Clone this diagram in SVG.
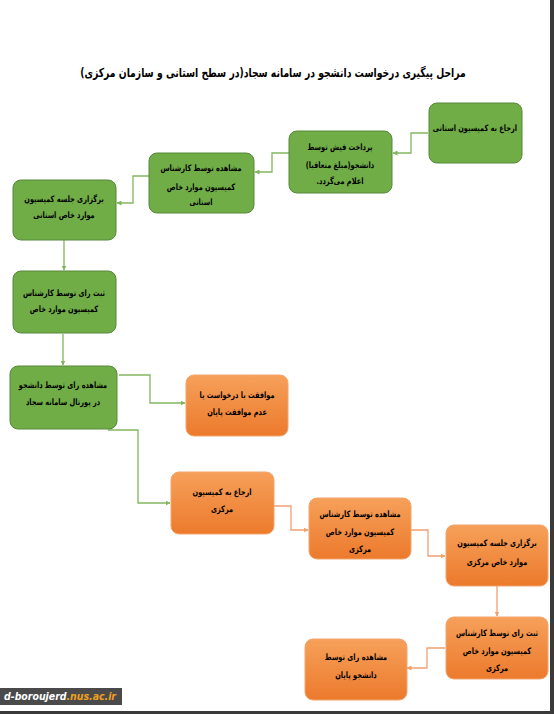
<svg xmlns="http://www.w3.org/2000/svg" width="554" height="714" viewBox="0 0 554 714">
<defs>
<linearGradient id="og" x1="0" y1="0" x2="0" y2="1">
<stop offset="0" stop-color="#f6a05a"/>
<stop offset="1" stop-color="#ec7a2c"/>
</linearGradient>
<marker id="ag" viewBox="0 0 10 10" refX="9" refY="5" markerWidth="5" markerHeight="5" orient="auto" markerUnits="userSpaceOnUse">
<path d="M0,0 L10,5 L0,10 z" fill="#82b65f"/>
</marker>
<marker id="ao" viewBox="0 0 10 10" refX="9" refY="5" markerWidth="5" markerHeight="5" orient="auto" markerUnits="userSpaceOnUse">
<path d="M0,0 L10,5 L0,10 z" fill="#f0a070"/>
</marker>
</defs>
<style>
.g{fill:#70ad47;stroke:#56883a;stroke-width:1}
.o{fill:url(#og);stroke:#f3a56c;stroke-width:1}
.t{font-family:"DejaVu Sans",sans-serif;font-weight:bold;font-size:8.8px;fill:#000;text-anchor:middle;direction:rtl}
.cg{fill:none;stroke:#82b65f;stroke-width:1.3;marker-end:url(#ag)}
.co{fill:none;stroke:#f0a070;stroke-width:1.3;marker-end:url(#ao)}
</style>
<rect width="554" height="714" fill="#ffffff"/>
<rect x="550" y="0" width="4" height="714" fill="#3a3a3a"/>
<rect x="0" y="711" width="554" height="3" fill="#3a3a3a"/>
<g transform="translate(273 0) scale(0.74 1)">
<text x="0" y="77" style="font-family:'DejaVu Sans',sans-serif;font-weight:bold;font-size:12.5px;text-anchor:middle;direction:rtl">مراحل پیگیری درخواست دانشجو در سامانه سجاد(در سطح استانی و سازمان مرکزی)</text>
</g>

<g id="connectors">
<path class="cg" d="M428,133 H411 V153 H393"/>
<path class="cg" d="M289,153 H272 V172 H255"/>
<path class="cg" d="M149,176 H133 V203 H117"/>
<path class="cg" d="M64,240 V270"/>
<path class="cg" d="M63,334 V365"/>
<path class="cg" d="M119,375 H150 V403 H185"/>
<path class="cg" d="M108,430 H138 V503 H170"/>
<path class="co" d="M274,506 H291 V530 H308"/>
<path class="co" d="M411,530 H428 V556 H445"/>
<path class="co" d="M497,586 V616"/>
<path class="co" d="M445,648 H427 V668 H407"/>
</g>

<g id="n1"><rect class="g" x="429" y="103" width="93" height="60" rx="8"/>
<g transform="translate(475 0) scale(0.75 1)"><text class="t" x="0" y="131">ارجاع به کمیسیون استانی</text></g></g>
<g id="n2"><rect class="g" x="289" y="131" width="103" height="62" rx="8"/>
<g transform="translate(340 0) scale(0.75 1)"><text class="t" x="0" y="150">پرداخت فیش توسط</text>
<text class="t" x="0" y="168">دانشجو(مبلغ متعاقبا)</text>
<text class="t" x="0" y="184">اعلام می‌گردد.</text></g></g>
<g id="n3"><rect class="g" x="149" y="153" width="105" height="60" rx="8"/>
<g transform="translate(201 0) scale(0.75 1)"><text class="t" x="0" y="171">مشاهده توسط کارشناس</text>
<text class="t" x="0" y="190">کمیسیون موارد خاص</text>
<text class="t" x="0" y="205">استانی</text></g></g>
<g id="n4"><rect class="g" x="13" y="180" width="103" height="60" rx="8"/>
<g transform="translate(64 0) scale(0.75 1)"><text class="t" x="0" y="202">برگزاری جلسه کمیسیون</text>
<text class="t" x="0" y="218">موارد خاص استانی</text></g></g>
<g id="n5"><rect class="g" x="13" y="271" width="103" height="62" rx="8"/>
<g transform="translate(64 0) scale(0.75 1)"><text class="t" x="0" y="296">ثبت رای توسط کارشناس</text>
<text class="t" x="0" y="312">کمیسیون موارد خاص</text></g></g>
<g id="n6"><rect class="g" x="10" y="366" width="107" height="63" rx="8"/>
<g transform="translate(63 0) scale(0.75 1)"><text class="t" x="0" y="388">مشاهده رای توسط دانشجو</text>
<text class="t" x="0" y="405">در پورتال سامانه سجاد</text></g></g>
<g id="n7"><rect class="o" x="186" y="375" width="102" height="61" rx="8"/>
<g transform="translate(237 0) scale(0.75 1)"><text class="t" x="0" y="398">موافقت با درخواست یا</text>
<text class="t" x="0" y="415">عدم موافقت  پایان</text></g></g>
<g id="n8"><rect class="o" x="171" y="472" width="103" height="62" rx="8"/>
<g transform="translate(222 0) scale(0.75 1)"><text class="t" x="0" y="495">ارجاع به کمیسیون</text>
<text class="t" x="0" y="512">مرکزی</text></g></g>
<g id="n9"><rect class="o" x="309" y="498" width="102" height="61" rx="8"/>
<g transform="translate(360 0) scale(0.75 1)"><text class="t" x="0" y="517">مشاهده توسط کارشناس</text>
<text class="t" x="0" y="535">کمیسیون موارد خاص</text>
<text class="t" x="0" y="552">مرکزی</text></g></g>
<g id="n10"><rect class="o" x="446" y="525" width="102" height="61" rx="8"/>
<g transform="translate(497 0) scale(0.75 1)"><text class="t" x="0" y="546">برگزاری جلسه کمیسیون</text>
<text class="t" x="0" y="565">موارد خاص مرکزی</text></g></g>
<g id="n11"><rect class="o" x="446" y="617" width="102" height="62" rx="8"/>
<g transform="translate(497 0) scale(0.75 1)"><text class="t" x="0" y="636">ثبت رای توسط کارشناس</text>
<text class="t" x="0" y="654">کمیسیون موارد خاص</text>
<text class="t" x="0" y="671">مرکزی</text></g></g>
<g id="n12"><rect class="o" x="305" y="639" width="102" height="61" rx="8"/>
<g transform="translate(356 0) scale(0.75 1)"><text class="t" x="0" y="660">مشاهده رای توسط</text>
<text class="t" x="0" y="678">دانشجو پایان</text></g></g>

<g id="watermark">
<rect x="0" y="688" width="122" height="17" fill="#4a4a4a"/>
<text x="4" y="700" textLength="112" lengthAdjust="spacingAndGlyphs" style="font-family:'DejaVu Sans',sans-serif;font-weight:bold;font-style:italic;font-size:10px"><tspan fill="#ffffff">d-boroujerd</tspan><tspan fill="#f0a020">.nus.ac.ir</tspan></text>
</g>
</svg>
